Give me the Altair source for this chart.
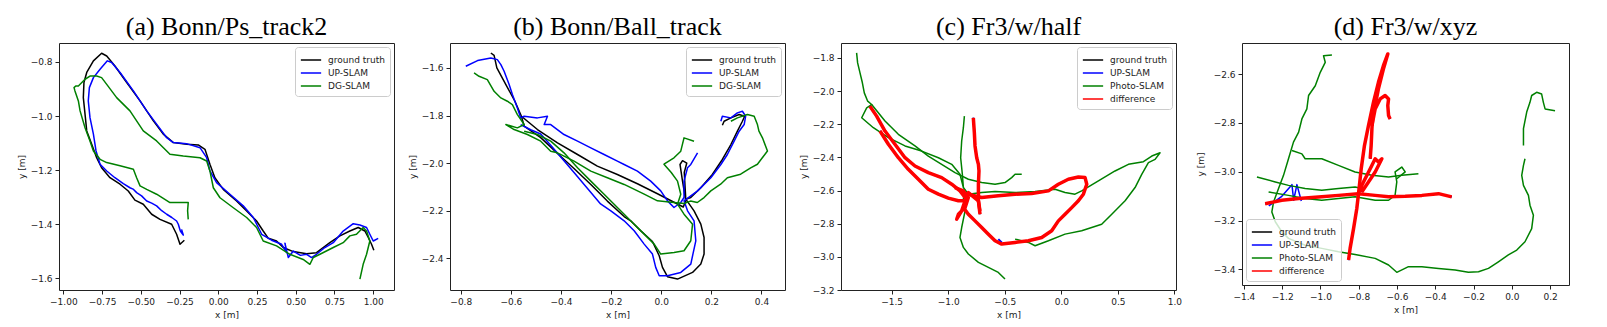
import altair as alt
import pandas as pd

FONT = "DejaVu Sans"
COLORS = {"ground truth": "#000000", "UP-SLAM": "#0000ff", "DG-SLAM": "#008000",
          "Photo-SLAM": "#008000", "difference": "#ff0000"}

# ---------------- Panel (a) Bonn/Ps_track2 ----------------
A_GT_S0 = [(-0.219,-1.459),(-0.247,-1.474),(-0.269,-1.437),(-0.301,-1.400),(-0.376,-1.382),(-0.430,-1.363),
           (-0.484,-1.326),(-0.538,-1.311),(-0.581,-1.277),(-0.634,-1.252),(-0.699,-1.228),(-0.753,-1.191),
           (-0.785,-1.154),(-0.817,-1.104),(-0.849,-1.055),(-0.860,-0.993),(-0.871,-0.932),(-0.867,-0.876),
           (-0.849,-0.839),(-0.806,-0.796),(-0.753,-0.768),(-0.720,-0.778),(-0.667,-0.815),(-0.591,-0.876),
           (-0.505,-0.944),(-0.419,-1.018),(-0.355,-1.067),(-0.290,-1.098),(-0.204,-1.104),(-0.129,-1.107),
           (-0.086,-1.123),(-0.054,-1.178),(-0.022,-1.228),(0.032,-1.271),(0.118,-1.314),(0.183,-1.351),
           (0.247,-1.388),(0.290,-1.425),(0.323,-1.452),(0.376,-1.462),(0.419,-1.486),(0.484,-1.501),
           (0.570,-1.509),(0.634,-1.505),(0.677,-1.486),(0.720,-1.468),(0.785,-1.443),(0.849,-1.425),
           (0.903,-1.412),(0.946,-1.425),(0.968,-1.449),(0.989,-1.474),(1.004,-1.496)]
A_UP_S0 = [(-0.237,-1.419),(-0.226,-1.440),(-0.245,-1.425),(-0.258,-1.400),(-0.269,-1.388),(-0.300,-1.375),
           (-0.333,-1.363),(-0.365,-1.350),(-0.398,-1.332),(-0.430,-1.322),(-0.462,-1.314),(-0.495,-1.295),
           (-0.527,-1.283),(-0.550,-1.270),(-0.570,-1.265),(-0.613,-1.250),(-0.667,-1.228),(-0.720,-1.203),
           (-0.763,-1.178),(-0.789,-1.129),(-0.806,-1.067),(-0.828,-1.006),(-0.839,-0.944),(-0.832,-0.895),
           (-0.806,-0.858),(-0.763,-0.827),(-0.716,-0.796),(-0.688,-0.802),(-0.634,-0.839),(-0.548,-0.907),
           (-0.462,-0.981),(-0.398,-1.030),(-0.333,-1.080),(-0.290,-1.098),(-0.204,-1.102),(-0.118,-1.117),
           (-0.075,-1.154),(-0.054,-1.203),(-0.011,-1.246),(0.075,-1.289),(0.161,-1.332),(0.226,-1.375),
           (0.280,-1.437),(0.344,-1.459),(0.409,-1.474),(0.441,-1.505),(0.430,-1.470),(0.452,-1.523),
           (0.484,-1.499),(0.530,-1.515),(0.570,-1.511),(0.602,-1.523),(0.634,-1.511),(0.688,-1.486),
           (0.742,-1.468),(0.806,-1.425),(0.871,-1.398),(0.914,-1.403),(0.957,-1.412),(0.978,-1.437),
           (1.000,-1.462),(1.032,-1.452)]
A_DG_S0 = [(-0.194,-1.382),(-0.198,-1.350),(-0.194,-1.320),(-0.237,-1.320),(-0.312,-1.320),(-0.398,-1.289),
           (-0.462,-1.271),(-0.505,-1.258),(-0.527,-1.228),(-0.548,-1.197),(-0.634,-1.184),(-0.720,-1.172),
           (-0.763,-1.160),(-0.806,-1.129),(-0.828,-1.092),(-0.860,-1.043),(-0.892,-0.981),(-0.903,-0.944),
           (-0.925,-0.907),(-0.931,-0.895),(-0.920,-0.889),(-0.903,-0.889),(-0.860,-0.864),(-0.828,-0.852),
           (-0.785,-0.852),(-0.753,-0.858),(-0.720,-0.883),(-0.656,-0.932),(-0.570,-0.981),(-0.484,-1.055),
           (-0.398,-1.092),(-0.312,-1.141),(-0.226,-1.148),(-0.118,-1.154),(-0.075,-1.166),(-0.054,-1.203),
           (-0.032,-1.265),(0.011,-1.302),(0.097,-1.339),(0.183,-1.375),(0.247,-1.412),(0.290,-1.462),
           (0.376,-1.480),(0.462,-1.511),(0.548,-1.530),(0.591,-1.548),(0.613,-1.523),(0.656,-1.511),
           (0.742,-1.486),(0.806,-1.468),(0.849,-1.443),(0.892,-1.437),(0.935,-1.412),(0.957,-1.425),
           (0.978,-1.462),(0.957,-1.511),(0.935,-1.548),(0.914,-1.603)]

# ---------------- Panel (b) Bonn/Ball_track ----------------
B_GT_S0 = [(-0.680,-1.537),(-0.667,-1.547),(-0.656,-1.600),(-0.620,-1.670),(-0.584,-1.740),(-0.558,-1.803),
           (-0.494,-1.859),(-0.414,-1.915),(-0.334,-1.964),(-0.255,-2.013),(-0.175,-2.048),(-0.095,-2.087),
           (-0.015,-2.129),(0.051,-2.165),(0.088,-2.185),(0.098,-2.159),(0.085,-2.076),(0.075,-2.006),
           (0.085,-1.990),(0.102,-2.000),(0.092,-2.040),(0.098,-2.152),(0.118,-2.145),(0.158,-2.104),
           (0.204,-2.048),(0.244,-1.985),(0.278,-1.922),(0.304,-1.866),(0.324,-1.824),(0.333,-1.803),
           (0.311,-1.796),(0.278,-1.810),(0.251,-1.824),(0.244,-1.841)]
B_GT_S1 = [(0.098,-2.152),(0.131,-2.201),(0.158,-2.257),(0.171,-2.313),(0.171,-2.383),(0.158,-2.425),
           (0.125,-2.460),(0.065,-2.488),(0.025,-2.478),(0.005,-2.439),(-0.008,-2.390),(-0.035,-2.330),
           (-0.082,-2.285),(-0.122,-2.243),(-0.148,-2.225),(-0.215,-2.160),(-0.281,-2.090),(-0.348,-2.023),
           (-0.414,-1.960),(-0.481,-1.893),(-0.547,-1.845),(-0.558,-1.803)]
B_UP_S0 = [(-0.780,-1.593),(-0.733,-1.569),(-0.680,-1.558),(-0.654,-1.565),(-0.640,-1.586),(-0.627,-1.614),
           (-0.607,-1.670),(-0.594,-1.712),(-0.574,-1.768),(-0.561,-1.810),(-0.547,-1.803),(-0.494,-1.810),
           (-0.454,-1.803),(-0.467,-1.838),(-0.441,-1.838),(-0.388,-1.880),(-0.334,-1.908),(-0.281,-1.936),
           (-0.228,-1.964),(-0.175,-1.992),(-0.148,-2.006),(-0.095,-2.034),(-0.042,-2.076),(-0.002,-2.117),
           (0.025,-2.159),(0.051,-2.187),(0.078,-2.166),(0.091,-2.145),(0.091,-2.076),(0.105,-2.020),
           (0.118,-2.006),(0.145,-1.957)]
B_UP_S1 = [(-0.561,-1.838),(-0.521,-1.860),(-0.481,-1.878),(-0.441,-1.925),(-0.388,-1.990),(-0.348,-2.040),
           (-0.300,-2.100),(-0.242,-2.172),(-0.201,-2.201),(-0.148,-2.243),(-0.108,-2.285),(-0.068,-2.341),
           (-0.035,-2.383),(-0.022,-2.439),(-0.008,-2.474),(0.025,-2.474),(0.078,-2.460),(0.118,-2.425),
           (0.138,-2.327),(0.131,-2.243),(0.105,-2.201),(0.091,-2.159),(0.145,-2.117),(0.198,-2.062),
           (0.238,-2.006),(0.264,-1.964),(0.291,-1.908),(0.311,-1.866),(0.331,-1.838),(0.337,-1.803),
           (0.324,-1.782),(0.304,-1.789),(0.278,-1.810),(0.244,-1.803),(0.238,-1.824)]
B_DG_S0 = [(-0.747,-1.621),(-0.727,-1.635),(-0.694,-1.649),(-0.667,-1.698),(-0.640,-1.726),(-0.614,-1.740),
           (-0.594,-1.754),(-0.574,-1.796),(-0.547,-1.838),(-0.574,-1.852),(-0.620,-1.838),(-0.587,-1.859),
           (-0.534,-1.880),(-0.481,-1.908),(-0.441,-1.950),(-0.414,-1.957),(-0.348,-1.992),(-0.281,-2.034),
           (-0.215,-2.062),(-0.148,-2.090),(-0.068,-2.131),(-0.015,-2.159),(0.051,-2.166),(0.091,-2.170),
           (0.117,-2.160),(0.144,-2.166),(0.171,-2.145),(0.198,-2.117),(0.237,-2.089),(0.264,-2.062),
           (0.317,-2.047),(0.357,-2.020),(0.384,-2.005),(0.424,-1.949),(0.404,-1.894),(0.390,-1.866),
           (0.384,-1.838),(0.371,-1.803),(0.344,-1.796),(0.304,-1.810),(0.278,-1.824)]
B_DG_S1 = [(-0.547,-1.866),(-0.494,-1.880),(-0.441,-1.908),(-0.388,-1.957),(-0.334,-2.020),(-0.281,-2.076),
           (-0.228,-2.131),(-0.175,-2.187),(-0.122,-2.243),(-0.068,-2.299),(-0.028,-2.341),(-0.002,-2.383),
           (0.051,-2.376),(0.091,-2.369),(0.118,-2.327),(0.125,-2.257),(0.091,-2.215),(0.065,-2.173),
           (0.078,-2.131),(0.065,-2.076),(0.040,-2.040),(0.011,-2.005),(0.051,-1.978),(0.078,-1.950),
           (0.091,-1.894),(0.131,-1.908)]

# ---------------- Panel (c) Fr3/w/half ----------------
C_DIFF_S0 = [(-1.692,-2.091),(-1.633,-2.151),(-1.559,-2.241),(-1.471,-2.321),(-1.382,-2.402),(-1.294,-2.452),
             (-1.176,-2.492),(-1.058,-2.522),(-0.969,-2.562),(-0.896,-2.602),(-0.851,-2.642),(-0.822,-2.622),
             (-0.763,-2.632),(-0.704,-2.642),(-0.557,-2.632),(-0.409,-2.622),(-0.262,-2.618),(-0.114,-2.602),
             (-0.026,-2.562),(0.062,-2.532),(0.151,-2.518),(0.210,-2.522),(0.225,-2.562),(0.195,-2.622),
             (0.151,-2.662),(0.092,-2.703),(0.033,-2.743),(-0.026,-2.783),(-0.085,-2.843),(-0.173,-2.883),
             (-0.291,-2.903),(-0.409,-2.913),(-0.527,-2.923),(-0.586,-2.903),(-0.645,-2.863),(-0.704,-2.823),
             (-0.763,-2.783),(-0.822,-2.743),(-0.866,-2.703)]
C_DIFF_S1 = [(-1.603,-2.241),(-1.529,-2.321),(-1.441,-2.402),(-1.353,-2.472),(-1.264,-2.532),(-1.176,-2.592),
             (-1.087,-2.622),(-0.999,-2.646),(-0.910,-2.662),(-0.851,-2.662)]
C_DIFF_S2 = [(-0.940,-2.582),(-0.866,-2.602),(-0.822,-2.642),(-0.851,-2.703),(-0.910,-2.743),(-0.925,-2.773),
             (-0.881,-2.723),(-0.851,-2.662),(-0.822,-2.612),(-0.733,-2.662),(-0.719,-2.723)]
C_DIFF_S3 = [(-0.778,-2.161),(-0.769,-2.251),(-0.763,-2.331),(-0.748,-2.402),(-0.733,-2.442),(-0.728,-2.482),
             (-0.733,-2.562),(-0.733,-2.662),(-0.719,-2.743)]
C_UP_S4 = [(-0.557,-2.893),(-0.527,-2.913)]
C_PH_S0 = [(-1.810,-1.770),(-1.801,-1.830),(-1.780,-1.890),(-1.759,-1.950),(-1.742,-2.011),(-1.712,-2.061),
           (-1.677,-2.081),(-1.721,-2.101),(-1.765,-2.161),(-1.662,-2.221),(-1.529,-2.281),(-1.382,-2.331),
           (-1.235,-2.362),(-1.087,-2.402),(-0.969,-2.442),(-0.896,-2.502),(-0.866,-2.582),(-0.875,-2.502),
           (-0.890,-2.402),(-0.881,-2.301),(-0.866,-2.221),(-0.857,-2.151)]
C_PH_S1 = [(-1.677,-2.081),(-1.559,-2.181),(-1.441,-2.261),(-1.294,-2.331),(-1.176,-2.392),(-1.058,-2.442),
           (-0.940,-2.492),(-0.822,-2.532),(-0.704,-2.552),(-0.586,-2.562),(-0.498,-2.552),(-0.439,-2.522),
           (-0.409,-2.502),(-0.350,-2.502)]
C_PH_S2 = [(-0.866,-2.582),(-0.822,-2.622),(-0.704,-2.612),(-0.586,-2.606),(-0.409,-2.612),(-0.232,-2.606),
           (-0.055,-2.592),(0.033,-2.612),(0.121,-2.622),(0.180,-2.602),(0.328,-2.542),(0.475,-2.482),
           (0.593,-2.442),(0.726,-2.426),(0.800,-2.392),(0.873,-2.372),(0.829,-2.412),(0.770,-2.432),
           (0.711,-2.502),(0.652,-2.582),(0.564,-2.662),(0.446,-2.743),(0.357,-2.803),(0.180,-2.843),
           (0.033,-2.863),(-0.114,-2.903),(-0.232,-2.933),(-0.291,-2.913),(-0.409,-2.893)]
C_PH_S3 = [(-0.866,-2.642),(-0.851,-2.723),(-0.881,-2.823),(-0.896,-2.883),(-0.866,-2.943),(-0.822,-2.983),
           (-0.733,-3.033),(-0.645,-3.064),(-0.557,-3.094),(-0.498,-3.134)]

# ---------------- Panel (d) Fr3/w/xyz ----------------
D_DIFF_S0 = [(-0.853,-3.362),(-0.845,-3.314),(-0.827,-3.233),(-0.810,-3.151),(-0.798,-3.069),(-0.787,-2.988),
             (-0.770,-2.893),(-0.749,-2.811),(-0.723,-2.716),(-0.697,-2.634),(-0.671,-2.566),(-0.648,-2.518),
             (-0.671,-2.580),(-0.697,-2.661),(-0.714,-2.729),(-0.726,-2.770),(-0.731,-2.824),(-0.735,-2.893),
             (-0.740,-2.947)]
D_DIFF_S1 = [(-0.731,-2.811),(-0.714,-2.743),(-0.688,-2.702),(-0.662,-2.688),(-0.644,-2.702),(-0.648,-2.729),
             (-0.644,-2.770),(-0.636,-2.784)]
D_DIFF_S2 = [(-0.798,-3.083),(-0.784,-3.056),(-0.740,-2.988),(-0.714,-2.947),(-0.697,-2.960),(-0.679,-2.947),
             (-0.714,-3.001),(-0.749,-3.042),(-0.784,-3.083)]
D_DIFF_S3 = [(-1.289,-3.131),(-1.202,-3.117),(-1.114,-3.110),(-0.993,-3.103),(-0.906,-3.097),(-0.801,-3.090),
             (-0.714,-3.097),(-0.644,-3.103),(-0.557,-3.101),(-0.470,-3.097),(-0.383,-3.090),(-0.314,-3.103)]
D_UP_S4 = [(-1.270,-3.140),(-1.202,-3.101),(-1.149,-3.053),(-1.140,-3.117),(-1.123,-3.053),(-1.100,-3.120)]
D_PH_S0 = [(-0.940,-2.522),(-0.984,-2.525),(-0.975,-2.552),(-1.001,-2.593),(-1.027,-2.648),(-1.062,-2.688),
           (-1.071,-2.743),(-1.097,-2.784),(-1.114,-2.838),(-1.141,-2.879),(-1.167,-2.947),(-1.193,-3.015),
           (-1.219,-3.069),(-1.245,-3.124),(-1.254,-3.165),(-1.236,-3.205),(-1.202,-3.246),(-1.167,-3.273),
           (-1.080,-3.301),(-0.993,-3.314),(-0.906,-3.328),(-0.819,-3.339),(-0.714,-3.355),(-0.644,-3.382),
           (-0.601,-3.412),(-0.540,-3.389),(-0.470,-3.389),(-0.383,-3.396),(-0.296,-3.403),(-0.227,-3.412),
           (-0.174,-3.410),(-0.122,-3.396),(-0.070,-3.369),(-0.018,-3.341),(0.026,-3.321),(0.069,-3.287),
           (0.104,-3.233),(0.113,-3.178),(0.095,-3.137),(0.087,-3.097),(0.061,-3.056),(0.052,-3.015),
           (0.061,-2.974),(0.069,-2.947)]
D_PH_S1 = [(0.061,-2.893),(0.061,-2.824),(0.078,-2.756),(0.095,-2.716),(0.104,-2.688),(0.130,-2.675),
           (0.156,-2.682),(0.165,-2.716),(0.174,-2.743),(0.226,-2.750)]
D_PH_S2 = [(-1.149,-2.913),(-1.097,-2.927),(-1.080,-2.947),(-0.993,-2.947),(-0.906,-2.974),(-0.819,-3.001),
           (-0.731,-3.015),(-0.644,-3.022),(-0.575,-3.015),(-0.488,-3.008)]
D_PH_S3 = [(-1.332,-3.022),(-1.236,-3.042),(-1.167,-3.056),(-1.080,-3.069),(-0.993,-3.076),(-0.906,-3.069),
           (-0.819,-3.063),(-0.784,-3.069)]
D_PH_S4 = [(-1.271,-3.083),(-1.167,-3.097),(-1.080,-3.110),(-0.993,-3.117),(-0.906,-3.110),(-0.819,-3.103),
           (-0.714,-3.117),(-0.644,-3.117),(-0.610,-3.097),(-0.601,-3.042),(-0.610,-3.001),(-0.575,-2.981),
           (-0.557,-3.001),(-0.601,-3.029)]

# axis ticks
A_XT = [-1.0, -0.75, -0.5, -0.25, 0.0, 0.25, 0.5, 0.75, 1.0]
A_YT = [-0.8, -1.0, -1.2, -1.4, -1.6]
B_XT = [-0.8, -0.6, -0.4, -0.2, 0.0, 0.2, 0.4]
B_YT = [-1.6, -1.8, -2.0, -2.2, -2.4]
C_XT = [-1.5, -1.0, -0.5, 0.0, 0.5, 1.0]
C_YT = [-1.8, -2.0, -2.2, -2.4, -2.6, -2.8, -3.0, -3.2]
D_XT = [-1.4, -1.2, -1.0, -0.8, -0.6, -0.4, -0.2, 0.0, 0.2]
D_YT = [-2.6, -2.8, -3.0, -3.2, -3.4]


def make_df(series):
    rows = []
    for name, segs, _w in series:
        for si, seg in enumerate(segs):
            for oi, (x, y) in enumerate(seg):
                rows.append({"x": x, "y": y, "series": name, "seg": si, "ord": oi})
    return pd.DataFrame(rows)


def panel(title, series, xdom, ydom, xt, yt, xfmt, legend_orient, w, h, y_extent=0):
    df = make_df(series)
    names = [s[0] for s in series]
    color = alt.Color(
        "series:N",
        scale=alt.Scale(domain=names, range=[COLORS[n] for n in names]),
        legend=alt.Legend(
            title=None, orient=legend_orient, offset=4, padding=5,
            strokeColor="#cccccc", fillColor="rgba(255,255,255,0.8)", cornerRadius=3,
            symbolType="M-1.45,0H1.45", symbolSize=196, symbolStrokeWidth=1.5, symbolOffset=3,
            labelFont=FONT, labelFontSize=9, labelColor="#222", labelOffset=9,
            rowPadding=0,
        ),
    )
    x = alt.X("x:Q", scale=alt.Scale(domain=xdom, nice=False, zero=False),
              axis=alt.Axis(values=xt, format=xfmt, title="x [m]", grid=False,
                            titleFontWeight="normal"))
    y = alt.Y("y:Q", scale=alt.Scale(domain=ydom, nice=False, zero=False),
              axis=alt.Axis(values=yt, format=".1f", title="y [m]", grid=False,
                            titleFontWeight="normal", minExtent=y_extent))
    layers = []
    for name, _segs, sw in series:
        layers.append(
            alt.Chart()
            .transform_filter(alt.datum.series == name)
            .mark_line(strokeWidth=sw, clip=True, strokeJoin="round")
            .encode(x=x, y=y, color=color, detail="seg:N", order="ord:Q")
        )
    return alt.layer(*layers, data=df).properties(
        width=w, height=h,
        title=alt.TitleParams(title, font="Liberation Serif", fontSize=26, fontWeight="normal",
                              anchor="middle", offset=3, color="#000"),
    )


C_DIFF = [C_DIFF_S0, C_DIFF_S1, C_DIFF_S2, C_DIFF_S3]
D_DIFF = [D_DIFF_S0, D_DIFF_S1, D_DIFF_S2, D_DIFF_S3]

pa = panel("(a) Bonn/Ps_track2",
           [("ground truth", [A_GT_S0], 1.5), ("UP-SLAM", [A_UP_S0], 1.5), ("DG-SLAM", [A_DG_S0], 1.5)],
           [-1.028, 1.134], [-1.643, -0.730], A_XT, A_YT, ".2f", "top-right", 335, 247)
pb = panel("(b) Bonn/Ball_track",
           [("ground truth", [B_GT_S0, B_GT_S1], 1.5), ("UP-SLAM", [B_UP_S0, B_UP_S1], 1.5),
            ("DG-SLAM", [B_DG_S0, B_DG_S1], 1.5)],
           [-0.843, 0.494], [-2.534, -1.495], B_XT, B_YT, ".1f", "top-right", 335, 247)
pc = panel("(c) Fr3/w/half",
           [("ground truth", C_DIFF, 1.5), ("UP-SLAM", C_DIFF + [C_UP_S4], 2),
            ("Photo-SLAM", [C_PH_S0, C_PH_S1, C_PH_S2, C_PH_S3], 1.5), ("difference", C_DIFF, 3.5)],
           [-1.948, 1.014], [-3.200, -1.710], C_XT, C_YT, ".1f", "top-right", 335, 247)
pd_ = panel("(d) Fr3/w/xyz",
            [("ground truth", D_DIFF, 1.5), ("UP-SLAM", D_DIFF + [D_UP_S4], 1.5),
             ("Photo-SLAM", [D_PH_S0, D_PH_S1, D_PH_S2, D_PH_S3, D_PH_S4], 1.5), ("difference", D_DIFF, 3.5)],
            [-1.410, 0.299], [-3.464, -2.473], D_XT, D_YT, ".1f", "bottom-left", 327, 242, y_extent=33)

chart = (
    alt.hconcat(pa, pb, pc, pd_, spacing=12)
    .resolve_scale(color="independent")
    .resolve_legend(color="independent")
    .properties(padding={"left": 8, "top": 5, "right": 5, "bottom": 5}, background="white")
    .configure_view(stroke="#222", strokeWidth=1)
    .configure_axis(
        domain=False, grid=False, ticks=True, tickColor="#222", tickSize=4, tickWidth=1,
        labelFont=FONT, labelFontSize=9, labelColor="#222", labelPadding=3,
        titleFont=FONT, titleFontSize=9, titleFontWeight="normal", titleColor="#222",
        labelOverlap=False, labelFlush=False, titlePadding=4,
    )
)

chart.save("out.html", embed_options={"renderer": "svg", "actions": False})
